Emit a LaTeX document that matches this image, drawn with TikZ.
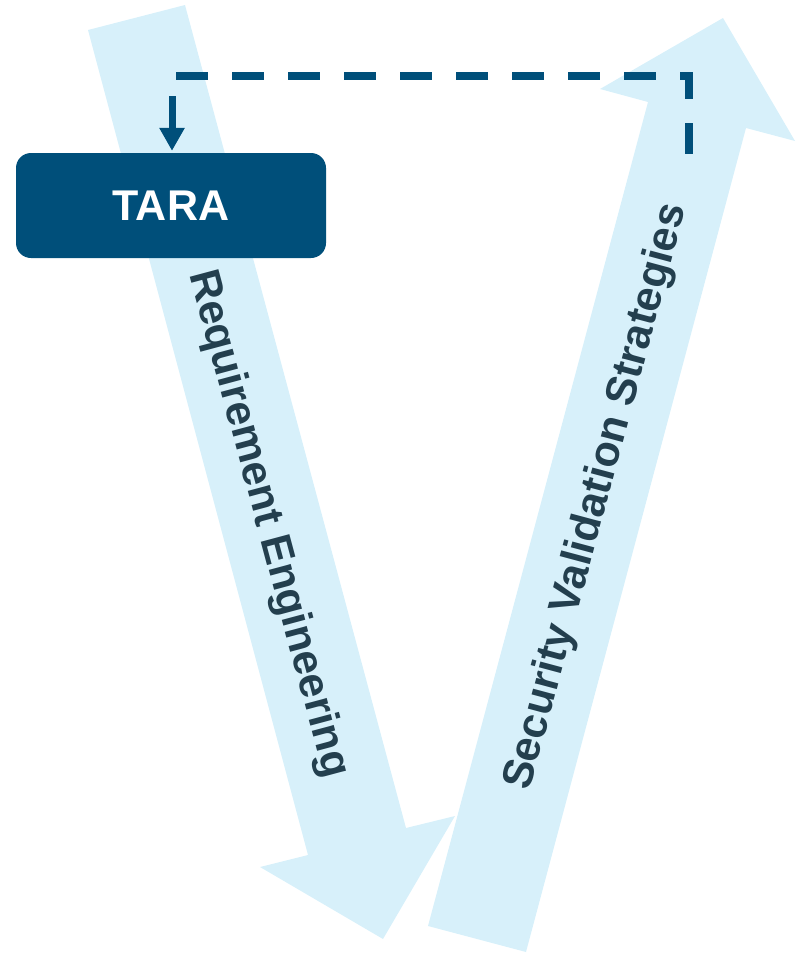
\documentclass[tikz,border=0pt]{standalone}
\usepackage{fontspec}
\setmainfont{Liberation Sans}
\usetikzlibrary{arrows.meta}
\definecolor{bandblue}{HTML}{D7F0FA}
\definecolor{deepblue}{HTML}{004F7A}
\definecolor{labelink}{HTML}{233F4E}
\tikzset{
  band/.style={fill=bandblue, draw=none},
  phasebox/.style={rectangle, rounded corners=15pt, fill=deepblue, text=white,
    minimum width=310pt, minimum height=105pt, inner sep=0pt,
    font=\fontsize{43}{43}\selectfont\bfseries},
  bandlabel/.style={text=labelink, inner sep=0pt,
    font=\fontsize{43}{43}\selectfont\bfseries},
  feedback/.style={draw=deepblue, line width=8pt, dash pattern=on 32pt off 24pt},
  entry/.style={draw=deepblue, line width=7pt,
    -{Triangle[width=24pt,length=23pt]}, shorten >=2pt}
}
\begin{document}
\begin{tikzpicture}[x=1pt,y=-1pt]
\useasboundingbox (0,0) rectangle (797,953);

% descending band
\path[band] (88,30) -- (185,5) -- (406,828) -- (455,816) -- (383,939)
  -- (260,867) -- (308,855) -- cycle;
% ascending band
\path[band] (428,926) -- (648,102) -- (600,89) -- (723,18) -- (795,141)
  -- (746,128) -- (526,952) -- cycle;

\node[phasebox] (tara) at (171,205.5) {TARA};

\node[bandlabel, rotate=-75] (req) at (268,524) {Requirement Engineering};
\node[bandlabel, rotate=75] (sec) at (597,497) {Security Validation Strategies};

% feedback loop
\coordinate (loopstart) at (176,76);
\coordinate (loopend) at (689,154);
\draw[feedback] (loopstart) -| (loopend);

\coordinate (feed) at (172,96);
\draw[entry] (feed) -- (feed |- tara.north);
\end{tikzpicture}
\end{document}
